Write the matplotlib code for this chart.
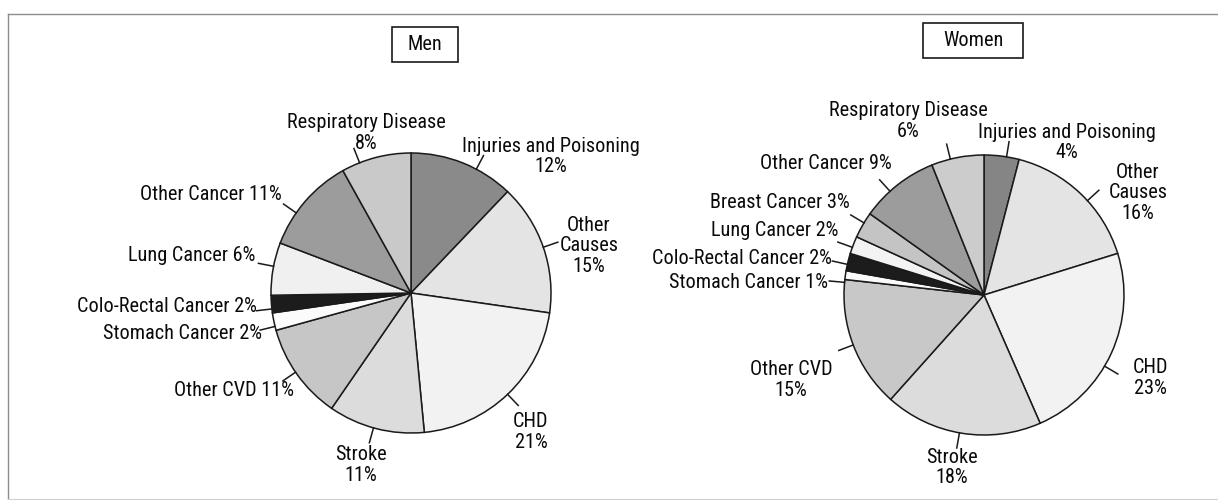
import numpy as np
import matplotlib
matplotlib.use("Agg")
import matplotlib.pyplot as plt
from matplotlib import font_manager
from matplotlib.patches import Rectangle

# ---------------- data ----------------
men_labels = ["Injuries and Poisoning", "Other Causes", "CHD", "Stroke", "Other CVD",
              "Stomach Cancer", "Colo-Rectal Cancer", "Lung Cancer", "Other Cancer",
              "Respiratory Disease"]
men_values = [12, 15, 21, 11, 11, 2, 2, 6, 11, 8]
men_text = ["Injuries and Poisoning\n12%", "Other\nCauses\n15%", "CHD\n21%", "Stroke\n11%",
            "Other CVD 11%", "Stomach Cancer 2%", "Colo-Rectal Cancer 2%", "Lung Cancer 6%",
            "Other Cancer 11%", "Respiratory Disease\n8%"]
men_colors = ["#8a8a8a", "#e4e4e4", "#f2f2f2", "#dcdcdc", "#c6c6c6",
              "#fbfbfb", "#1c1c1c", "#f0f0f0", "#9c9c9c", "#c9c9c9"]

women_labels = ["Injuries and Poisoning", "Other Causes", "CHD", "Stroke", "Other CVD",
                "Stomach Cancer", "Colo-Rectal Cancer", "Lung Cancer", "Breast Cancer",
                "Other Cancer", "Respiratory Disease"]
women_values = [4, 16, 23, 18, 15, 1, 2, 2, 3, 9, 6]
women_text = ["Injuries and Poisoning\n4%", "Other\nCauses\n16%", "CHD\n23%", "Stroke\n18%",
              "Other CVD\n15%", "Stomach Cancer 1%", "Colo-Rectal Cancer 2%", "Lung Cancer 2%",
              "Breast Cancer 3%", "Other Cancer 9%", "Respiratory Disease\n6%"]
women_colors = ["#858585", "#e4e4e4", "#f2f2f2", "#dcdcdc", "#c8c8c8",
                "#fbfbfb", "#1c1c1c", "#f3f3f3", "#c4c4c4", "#9c9c9c", "#cccccc"]

# ---------------- layout / style ----------------
W, H = 1218, 500
names = {f.name for f in font_manager.fontManager.ttflist}
FAMILY = "DejaVu Sans"
for cand in ["Roboto Condensed", "Archivo Narrow", "PT Sans Narrow", "Liberation Sans Narrow"]:
    if cand in names:
        FAMILY = cand
        break
FONT = dict(family=FAMILY, weight="normal")
FS = 14.6
TXT_COLOR = "#0a0a0a"

# label positions (in pie-radius units, relative to pie centre) and alignment
men_pos = [(1.00, 0.975, "center"), (1.27, 0.336, "center"), (0.857, -0.993, "center"),
           (-0.357, -1.229, "center"), (-0.836, -0.70, "right"), (-1.064, -0.286, "right"),
           (-1.10, -0.10, "right"), (-1.114, 0.271, "right"), (-0.921, 0.70, "right"),
           (-0.32, 1.14, "center")]
men_off = [6, 0, 0, 1, 1, -2, -2, 1, -6, -7]   # leader angle offsets (deg)

women_pos = [(0.593, 1.089, "center"), (1.10, 0.729, "center"), (1.186, -0.593, "center"),
             (-0.229, -1.232, "center"), (-1.379, -0.607, "center"), (-1.114, 0.086, "right"),
             (-1.086, 0.264, "right"), (-1.043, 0.464, "right"), (-0.957, 0.664, "right"),
             (-0.657, 0.936, "right"), (-0.543, 1.243, "center")]
women_off = [2, 4, 6, 1, 0, -3, -1, -1, 1, -4, -3]

R_PX = 140
men_center = (411, 293)
women_center = (984, 295)

fig = plt.figure(figsize=(W / 100, H / 100), dpi=100)
fig.patch.set_facecolor("white")

# overlay axes in pixel coordinates for frame and title boxes
ov = fig.add_axes([0, 0, 1, 1])
ov.set_xlim(0, W)
ov.set_ylim(H, 0)
ov.axis("off")
ov.plot([8, W], [14, 14], color="#8c8c8c", lw=1.0)
ov.plot([8, 8], [14, H], color="#8c8c8c", lw=1.0)
ov.plot([8, W], [498.5, 498.5], color="#d0d0d0", lw=0.8)


def title_box(cx, cy, w, h, txt):
    ov.add_patch(Rectangle((cx - w / 2, cy - h / 2), w, h, fill=False,
                           edgecolor="#1a1a1a", lw=1.2))
    ov.text(cx, cy, txt, ha="center", va="center", fontsize=FS, color=TXT_COLOR, **FONT)


title_box(425, 44.5, 66, 35, "Men")
title_box(973, 40.5, 100, 35, "Women")


def draw_pie(center, values, colors, texts, pos, offs):
    cx, cy = center
    ax = fig.add_axes([(cx - R_PX) / W, (H - cy - R_PX) / H, 2 * R_PX / W, 2 * R_PX / H])
    ax.pie(values, colors=colors, startangle=90, counterclock=False,
           wedgeprops=dict(edgecolor="#1a1a1a", linewidth=1.1))
    ax.set_xlim(-1, 1)
    ax.set_ylim(-1, 1)
    ax.set_aspect("equal")
    ax.axis("off")
    vals = np.asarray(values, dtype=float)
    cum = np.cumsum(vals) / vals.sum() * 360.0
    start = np.concatenate([[0], cum[:-1]])
    mids = (start + cum) / 2.0
    for mid, off, txt, (tx, ty, ha) in zip(mids, offs, texts, pos):
        phi = np.deg2rad(90 - (mid + off))
        r0, r1 = 1.0, 1.11
        ax.plot([r0 * np.cos(phi), r1 * np.cos(phi)], [r0 * np.sin(phi), r1 * np.sin(phi)],
                color="#1a1a1a", lw=1.1, clip_on=False)
        ax.text(tx, ty, txt, ha=ha, va="center", fontsize=FS, color=TXT_COLOR,
                linespacing=1.12, multialignment="center", clip_on=False, **FONT)
    return ax


draw_pie(men_center, men_values, men_colors, men_text, men_pos, men_off)
draw_pie(women_center, women_values, women_colors, women_text, women_pos, women_off)

fig.savefig("out.png", dpi=100, facecolor="white")
